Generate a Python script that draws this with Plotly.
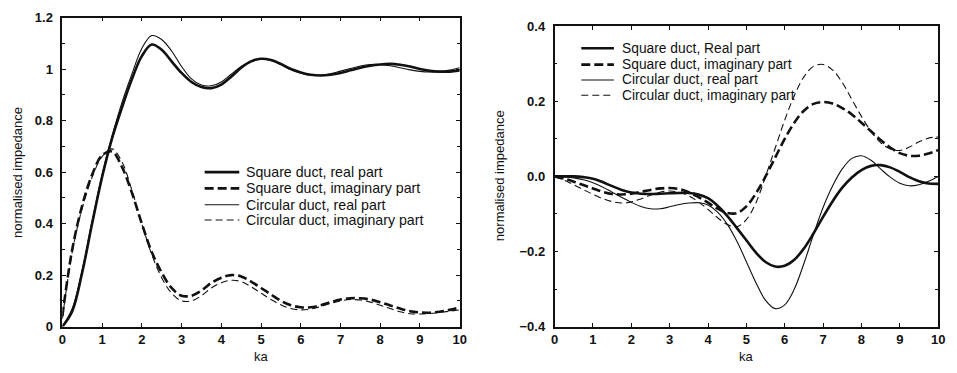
import plotly.graph_objects as go

# ---- data: normalised radiation impedance vs ka ----
ka = [0, 0.25, 0.5, 0.75, 1, 1.25, 1.5, 1.75, 2, 2.25, 2.5, 2.75, 3, 3.25, 3.5, 3.75,
      4, 4.25, 4.5, 4.75, 5, 5.25, 5.5, 5.75, 6, 6.25, 6.5, 6.75, 7, 7.25, 7.5, 7.75,
      8, 8.25, 8.5, 8.75, 9, 9.25, 9.5, 9.75, 10]

# left panel
sq_real_a = [0.0, 0.06, 0.21, 0.40, 0.58, 0.73, 0.85, 0.96, 1.05, 1.095, 1.075, 1.03, 0.985,
             0.95, 0.93, 0.926, 0.94, 0.97, 1.005, 1.03, 1.04, 1.035, 1.02, 1.0, 0.987,
             0.978, 0.975, 0.978, 0.985, 0.995, 1.005, 1.013, 1.018, 1.02, 1.017, 1.01,
             1.0, 0.993, 0.99, 0.99, 0.995]
sq_imag_a = [0.04, 0.30, 0.47, 0.59, 0.665, 0.68, 0.62, 0.52, 0.40, 0.29, 0.21, 0.15, 0.12,
             0.12, 0.14, 0.17, 0.19, 0.2, 0.195, 0.175, 0.15, 0.125, 0.1, 0.083, 0.075,
             0.075, 0.083, 0.095, 0.105, 0.11, 0.11, 0.105, 0.095, 0.082, 0.07, 0.06, 0.055,
             0.054, 0.058, 0.065, 0.075]
ci_real_a = [0.0, 0.07, 0.22, 0.41, 0.59, 0.74, 0.87, 0.98, 1.08, 1.13, 1.115, 1.07, 1.01,
             0.962, 0.938, 0.935, 0.95, 0.98, 1.01, 1.03, 1.038, 1.033, 1.017, 0.998, 0.985,
             0.976, 0.976, 0.982, 0.992, 1.002, 1.012, 1.018, 1.018, 1.013, 1.005, 0.997,
             0.991, 0.989, 0.991, 0.996, 1.005]
ci_imag_a = [0.03, 0.29, 0.46, 0.58, 0.66, 0.69, 0.64, 0.53, 0.40, 0.28, 0.19, 0.13, 0.1,
             0.1, 0.12, 0.15, 0.17, 0.18, 0.175, 0.155, 0.13, 0.105, 0.085, 0.07, 0.065,
             0.068, 0.078, 0.09, 0.1, 0.105, 0.103, 0.095, 0.083, 0.07, 0.058, 0.05, 0.049,
             0.051, 0.055, 0.06, 0.065]

# right panel
sq_real_b = [0.0, 0.0, 0.0, -0.002, -0.006, -0.015, -0.026, -0.036, -0.043, -0.046, -0.047,
             -0.046, -0.045, -0.044, -0.044, -0.048, -0.058, -0.078, -0.105, -0.137, -0.17,
             -0.203, -0.228, -0.24, -0.238, -0.222, -0.192, -0.152, -0.108, -0.066, -0.03,
             -0.003, 0.017, 0.028, 0.03, 0.024, 0.012, -0.002, -0.013, -0.019, -0.02]
sq_imag_b = [0.0, -0.006, -0.014, -0.023, -0.032, -0.041, -0.047, -0.048, -0.046, -0.041,
             -0.036, -0.032, -0.031, -0.034, -0.042, -0.055, -0.07, -0.086, -0.097, -0.098,
             -0.08, -0.045, 0.0, 0.05, 0.1, 0.143, 0.175, 0.193, 0.198, 0.194, 0.182, 0.165,
             0.143, 0.12, 0.097, 0.077, 0.062, 0.055, 0.055, 0.061, 0.07]
ci_real_b = [0.0, -0.001, -0.004, -0.009, -0.017, -0.028, -0.042, -0.056, -0.069, -0.08,
             -0.086, -0.086, -0.081, -0.075, -0.071, -0.07, -0.076, -0.095, -0.127, -0.172,
             -0.227, -0.283, -0.33, -0.352, -0.342, -0.3, -0.232, -0.155, -0.083, -0.025,
             0.02, 0.048, 0.055, 0.043, 0.02, -0.002, -0.018, -0.025, -0.022, -0.013, 0.0]
ci_imag_b = [0.0, -0.01, -0.022, -0.035, -0.048, -0.059, -0.067, -0.071, -0.068, -0.06,
             -0.05, -0.042, -0.039, -0.042, -0.052, -0.068, -0.088, -0.11, -0.128, -0.134,
             -0.115, -0.07, 0.0, 0.075, 0.15, 0.215, 0.265, 0.293, 0.298, 0.283, 0.25, 0.205,
             0.16, 0.12, 0.09, 0.073, 0.069, 0.078, 0.092, 0.102, 0.105]

names_a = ["Square duct, real part", "Square duct, imaginary part",
           "Circular duct, real part", "Circular duct, imaginary part"]
names_b = ["Square duct, Real part", "Square duct, imaginary part",
           "Circular duct, real part", "Circular duct, imaginary part"]

x_ticks = list(range(0, 11))
y_ticks_a = [0, 0.2, 0.4, 0.6, 0.8, 1.0, 1.2]
y_ticklabels_a = ["0", "0.2", "0.4", "0.6", "0.8", "1", "1.2"]
y_ticks_b = [-0.4, -0.2, 0.0, 0.2, 0.4]
y_ticklabels_b = ["\u22120.4", "\u22120.2", "0.0", "0.2", "0.4"]

styles = [
    dict(width=2.6, dash="solid"),
    dict(width=2.6, dash="9px,4px"),
    dict(width=1.1, dash="solid"),
    dict(width=1.1, dash="7px,4px"),
]

W, H = 957, 373
FONT = "Liberation Sans, Arial, sans-serif"
INK = "#111111"


def px_x(p):
    return p / W


def px_y(p):
    return 1 - p / H


fig = go.Figure()

for ys, nm, st in zip([sq_real_a, sq_imag_a, ci_real_a, ci_imag_a], names_a, styles):
    fig.add_trace(go.Scatter(x=ka, y=ys, name=nm, mode="lines", line_shape="spline",
                             line=dict(color=INK, **st), xaxis="x", yaxis="y",
                             showlegend=False))
for ys, nm, st in zip([sq_real_b, sq_imag_b, ci_real_b, ci_imag_b], names_b, styles):
    fig.add_trace(go.Scatter(x=ka, y=ys, name=nm, mode="lines", line_shape="spline",
                             line=dict(color=INK, **st), xaxis="x2", yaxis="y2",
                             showlegend=False))

# hand-placed key boxes (sample line + label) for each panel
def add_key(names, x0, x1, xt, rows, size):
    for nm, st, yr in zip(names, styles, rows):
        fig.add_shape(type="line", xref="paper", yref="paper",
                      x0=px_x(x0), x1=px_x(x1), y0=px_y(yr), y1=px_y(yr),
                      line=dict(color=INK, width=st["width"], dash=st["dash"]))
        fig.add_annotation(text=nm, xref="paper", yref="paper", x=px_x(xt), y=px_y(yr),
                           xanchor="left", yanchor="middle", showarrow=False,
                           font=dict(family=FONT, size=size, color=INK))

add_key(names_a, 203, 238, 243, [172, 189, 206, 222], 14.2)
add_key(names_b, 584, 617, 623, [43, 60, 76, 92], 13.8)

# axis titles
for xc, yc in [(260, 364), (751, 364)]:
    fig.add_annotation(text="ka", xref="paper", yref="paper", x=px_x(xc), y=px_y(yc),
                       xanchor="center", yanchor="middle", showarrow=False,
                       font=dict(family=FONT, size=13, color=INK))
for xc, yc in [(13, 172), (502, 176)]:
    fig.add_annotation(text="normalised impedance", xref="paper", yref="paper",
                       x=px_x(xc), y=px_y(yc), xanchor="center", yanchor="middle",
                       textangle=-90, showarrow=False,
                       font=dict(family=FONT, size=13, color=INK))

axis_common = dict(showline=True, linecolor=INK, linewidth=1.6, mirror="ticks",
                   ticks="inside", ticklen=4, tickwidth=1, tickcolor=INK,
                   showgrid=False, zeroline=False,
                   tickfont=dict(family=FONT, size=13, color=INK, weight="bold"))
minor_y = dict(dtick=0.1, ticks="inside", ticklen=3, tickcolor=INK)

fig.update_layout(
    width=W, height=H,
    margin=dict(l=0, r=0, t=0, b=0),
    paper_bgcolor="white", plot_bgcolor="white",
    font=dict(family=FONT, color=INK),
    showlegend=False,
    xaxis=dict(domain=[px_x(59), px_x(461)], range=[0, 10], tickvals=x_ticks,
               anchor="y", **axis_common),
    yaxis=dict(domain=[px_y(333), px_y(11)], range=[0, 1.2], tickvals=y_ticks_a,
               ticktext=y_ticklabels_a, anchor="x", minor=minor_y,
               ticklabelstandoff=5, **axis_common),
    xaxis2=dict(domain=[px_x(557), px_x(945)], range=[0, 10], tickvals=x_ticks,
                anchor="y2", **axis_common),
    yaxis2=dict(domain=[px_y(333), px_y(20)], range=[-0.4, 0.4], tickvals=y_ticks_b,
                ticktext=y_ticklabels_b, anchor="x2", minor=minor_y,
                ticklabelstandoff=5, **axis_common),
)

fig.write_html("out.html")
